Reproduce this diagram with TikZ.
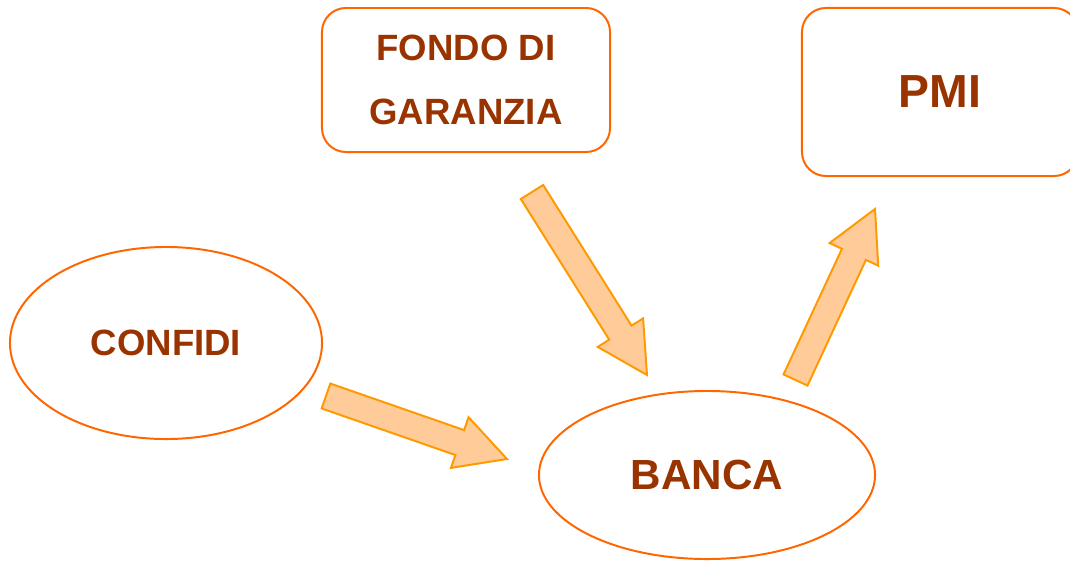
\documentclass[tikz,border=0pt]{standalone}
\usepackage{fontspec}
\setmainfont{Liberation Sans}
\usetikzlibrary{shapes.geometric,calc}
\definecolor{boxorange}{HTML}{FF6600}
\definecolor{textbrown}{HTML}{993300}
\definecolor{arrowfill}{HTML}{FFCC99}
\definecolor{arrowline}{HTML}{FF9900}
\tikzset{
mybox/.style={
  draw=boxorange,
  line width=1.4pt,
  rounded corners=0.6cm,
  text=textbrown,
  align=center
  },
myellipse/.style={
  ellipse,
  draw=boxorange,
  line width=1.4pt,
  text=textbrown
  },
fatarrow/.style={
  draw=arrowline,
  fill=arrowfill,
  line width=1.4pt,
  line join=miter
  }
}
% block arrow from #1 (tail) to #2 (tip)
\newcommand{\blockarrow}[2]{%
  \coordinate (hb) at ($(#2)!1.25cm!(#1)$);
  \draw[fatarrow] ($(#1)!0.33cm!90:(#2)$) -- ($(hb)!0.33cm!90:(#2)$)
    -- ($(hb)!0.67cm!90:(#2)$) -- (#2) -- ($(hb)!0.67cm!-90:(#2)$)
    -- ($(hb)!0.33cm!-90:(#2)$) -- ($(#1)!0.33cm!-90:(#2)$) -- cycle;
}

\begin{document}
\begin{tikzpicture}[x=0.025cm, y=-0.025cm]
  \useasboundingbox (0,0) rectangle (1070,561);

  \node[mybox, minimum width=7.2cm, minimum height=3.6cm,
        font=\fontsize{26}{45.5}\selectfont\bfseries] (fondo) at (466,80) {FONDO DI\\GARANZIA};
  \node[mybox, minimum width=6.9cm, minimum height=4.2cm,
        font=\fontsize{33}{40}\selectfont\bfseries] (pmi) at (940,92) {PMI};
  \node[myellipse, minimum width=7.8cm, minimum height=4.8cm,
        font=\fontsize{26}{32}\selectfont\bfseries] (confidi) at (166,343) {CONFIDI};
  \node[myellipse, minimum width=8.4cm, minimum height=4.2cm,
        font=\fontsize{30}{36}\selectfont\bfseries] (banca) at (707,475) {BANCA};

  \coordinate (fondo-tail) at (532,192);
  \coordinate (fondo-tip) at (647,375);
  \coordinate (confidi-tail) at (326,396);
  \coordinate (confidi-tip) at (507,459);
  \coordinate (banca-tail) at (795.5,380);
  \coordinate (banca-tip) at (875,209);

  \blockarrow{fondo-tail}{fondo-tip}
  \blockarrow{confidi-tail}{confidi-tip}
  \blockarrow{banca-tail}{banca-tip}

\end{tikzpicture}
\end{document}
